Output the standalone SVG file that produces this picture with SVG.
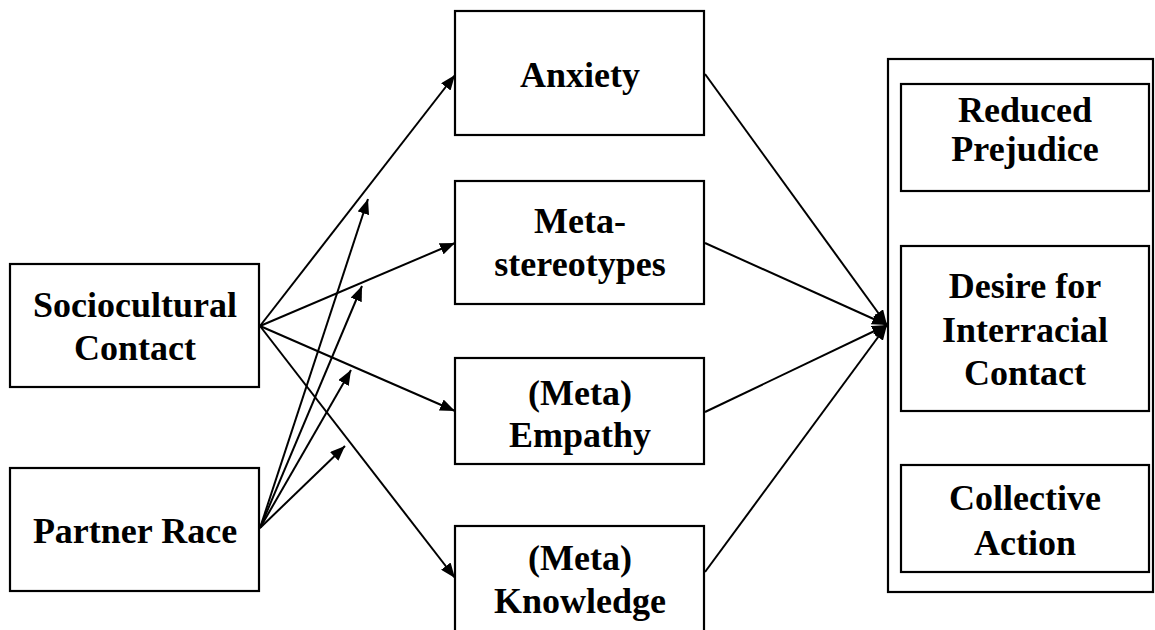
<svg xmlns="http://www.w3.org/2000/svg" width="1155" height="630" viewBox="0 0 1155 630">
<defs>
<style>
.box{fill:#fff;stroke:#000;stroke-width:2.2}
.outer{fill:none;stroke:#000;stroke-width:2.2}
.lbl{font-family:"Liberation Serif","Times New Roman",serif;font-weight:bold;font-size:36px;fill:#000;text-anchor:middle}
.edge{stroke:#000;stroke-width:2;fill:none;marker-end:url(#ah)}
</style>
<marker id="ah" markerUnits="userSpaceOnUse" markerWidth="16" markerHeight="12" refX="15" refY="6" orient="auto">
<path d="M0,0 L15,6 L0,12 z" fill="#000"/>
</marker>
</defs>
<rect width="1155" height="630" fill="#fff"/>
<g id="connectors">
<line class="edge" x1="260" y1="326" x2="455" y2="75"/>
<line class="edge" x1="260" y1="326" x2="455" y2="243"/>
<line class="edge" x1="260" y1="326" x2="455" y2="411"/>
<line class="edge" x1="260" y1="326" x2="455" y2="578"/>
<line class="edge" x1="260" y1="528" x2="368" y2="199"/>
<line class="edge" x1="260" y1="528" x2="362" y2="286"/>
<line class="edge" x1="260" y1="528" x2="351" y2="370"/>
<line class="edge" x1="260" y1="528" x2="345" y2="446"/>
<line class="edge" x1="705" y1="74" x2="887" y2="325"/>
<line class="edge" x1="705" y1="243" x2="887" y2="325"/>
<line class="edge" x1="705" y1="412" x2="887" y2="325"/>
<line class="edge" x1="705" y1="572" x2="887" y2="325"/>
</g>
<g id="sociocultural">
<rect class="box" x="10" y="264" width="249" height="123"/>
<text class="lbl" x="135" y="317">Sociocultural</text>
<text class="lbl" x="135" y="360">Contact</text>
</g>
<g id="partner-race">
<rect class="box" x="10" y="468" width="249" height="123"/>
<text class="lbl" x="135" y="543">Partner Race</text>
</g>
<g id="anxiety">
<rect class="box" x="455" y="11" width="249" height="124"/>
<text class="lbl" x="580" y="87">Anxiety</text>
</g>
<g id="meta-stereotypes">
<rect class="box" x="455" y="181" width="249" height="123"/>
<text class="lbl" x="580" y="233">Meta-</text>
<text class="lbl" x="580" y="276">stereotypes</text>
</g>
<g id="meta-empathy">
<rect class="box" x="455" y="358" width="249" height="106"/>
<text class="lbl" x="580" y="405">(Meta)</text>
<text class="lbl" x="580" y="447">Empathy</text>
</g>
<g id="meta-knowledge">
<rect class="box" x="455" y="526" width="249" height="124"/>
<text class="lbl" x="580" y="570">(Meta)</text>
<text class="lbl" x="580" y="613">Knowledge</text>
</g>
<g id="outcomes">
<rect class="outer" x="888" y="59" width="265" height="533"/>
</g>
<g id="reduced-prejudice">
<rect class="box" x="901" y="84" width="248" height="107"/>
<text class="lbl" x="1025" y="122">Reduced</text>
<text class="lbl" x="1025" y="161">Prejudice</text>
</g>
<g id="desire-interracial-contact">
<rect class="box" x="901" y="246" width="248" height="165"/>
<text class="lbl" x="1025" y="298">Desire for</text>
<text class="lbl" x="1025" y="342">Interracial</text>
<text class="lbl" x="1025" y="385">Contact</text>
</g>
<g id="collective-action">
<rect class="box" x="901" y="465" width="248" height="107"/>
<text class="lbl" x="1025" y="510">Collective</text>
<text class="lbl" x="1025" y="555">Action</text>
</g>
</svg>
